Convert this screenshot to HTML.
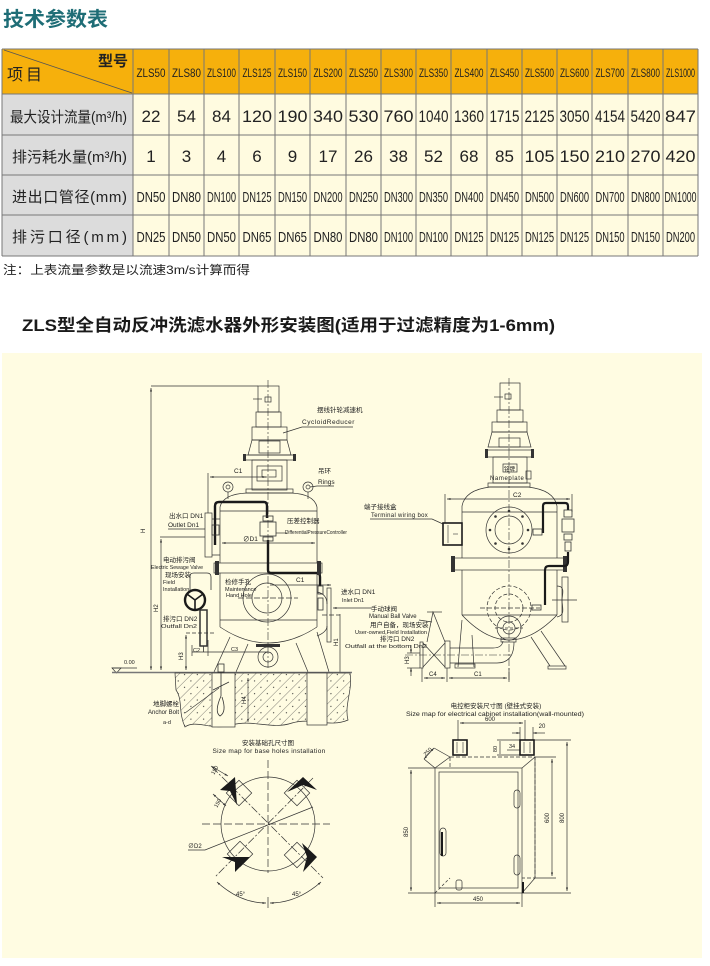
<!DOCTYPE html>
<html><head><meta charset="utf-8"><title>ZLS</title>
<style>
html,body{margin:0;padding:0;background:#fff;}
svg{display:block;}
.cj{font-family:"Liberation Sans","Noto Sans CJK SC",sans-serif;}
</style></head><body>
<svg width="710" height="966" viewBox="0 0 710 966" xmlns="http://www.w3.org/2000/svg" font-family="'Liberation Sans','Noto Sans CJK SC',sans-serif">
<defs>
<pattern id="hatch" width="9" height="9" patternUnits="userSpaceOnUse" patternTransform="rotate(45)">
<rect width="9" height="9" fill="#fffce2"/>
<line x1="0" y1="0" x2="0" y2="9" stroke="#333" stroke-width="0.6"/>
<circle cx="4.5" cy="4.5" r="0.6" fill="#333"/>
</pattern>
<marker id="ar" viewBox="0 0 10 10" refX="10" refY="5" markerWidth="5" markerHeight="5" orient="auto-start-reverse"><path d="M0,2 L10,5 L0,8 Z" fill="#333"/></marker>
</defs>

<!-- ===== title ===== -->
<text x="3" y="26" font-size="20" font-weight="bold" fill="#1e6d76" textLength="105" lengthAdjust="spacingAndGlyphs">技术参数表</text>

<!-- ===== table ===== -->
<rect x="2" y="49" width="696" height="45" fill="#f6b00c"/>
<rect x="2" y="94" width="131" height="162" fill="#dcdcdc"/>
<rect x="133" y="94" width="565" height="162" fill="#fffbe0"/>
<g stroke="#777" stroke-width="1">
<line x1="2" y1="49" x2="698" y2="49"/>
<line x1="2" y1="94" x2="698" y2="94"/>
<line x1="2" y1="135" x2="698" y2="135"/>
<line x1="2" y1="175" x2="698" y2="175"/>
<line x1="2" y1="215" x2="698" y2="215"/>
<line x1="2" y1="256" x2="698" y2="256"/>
<line x1="2" y1="49" x2="2" y2="256"/>
<line x1="133" y1="49" x2="133" y2="256"/>
<line x1="169" y1="49" x2="169" y2="256"/>
<line x1="204" y1="49" x2="204" y2="256"/>
<line x1="239" y1="49" x2="239" y2="256"/>
<line x1="275" y1="49" x2="275" y2="256"/>
<line x1="310" y1="49" x2="310" y2="256"/>
<line x1="346" y1="49" x2="346" y2="256"/>
<line x1="381" y1="49" x2="381" y2="256"/>
<line x1="416" y1="49" x2="416" y2="256"/>
<line x1="451" y1="49" x2="451" y2="256"/>
<line x1="487" y1="49" x2="487" y2="256"/>
<line x1="522" y1="49" x2="522" y2="256"/>
<line x1="557" y1="49" x2="557" y2="256"/>
<line x1="592" y1="49" x2="592" y2="256"/>
<line x1="628" y1="49" x2="628" y2="256"/>
<line x1="663" y1="49" x2="663" y2="256"/>
<line x1="698" y1="49" x2="698" y2="256"/>
<line x1="4" y1="50" x2="132" y2="93" stroke="#555" stroke-width="0.8"/>
</g>
<text x="98" y="66" font-size="15" font-weight="bold" fill="#222">型号</text>
<text x="7" y="80" font-size="16" fill="#222" textLength="35" lengthAdjust="spacing">项目</text>

<g font-size="12" fill="#222" text-anchor="middle">
<text x="151" y="77" textLength="29" lengthAdjust="spacingAndGlyphs">ZLS50</text>
<text x="186.5" y="77" textLength="29" lengthAdjust="spacingAndGlyphs">ZLS80</text>
<text x="221.5" y="77" textLength="29" lengthAdjust="spacingAndGlyphs">ZLS100</text>
<text x="257" y="77" textLength="29" lengthAdjust="spacingAndGlyphs">ZLS125</text>
<text x="292.5" y="77" textLength="29" lengthAdjust="spacingAndGlyphs">ZLS150</text>
<text x="328" y="77" textLength="29" lengthAdjust="spacingAndGlyphs">ZLS200</text>
<text x="363.5" y="77" textLength="29" lengthAdjust="spacingAndGlyphs">ZLS250</text>
<text x="398.5" y="77" textLength="29" lengthAdjust="spacingAndGlyphs">ZLS300</text>
<text x="433.5" y="77" textLength="29" lengthAdjust="spacingAndGlyphs">ZLS350</text>
<text x="469" y="77" textLength="29" lengthAdjust="spacingAndGlyphs">ZLS400</text>
<text x="504.5" y="77" textLength="29" lengthAdjust="spacingAndGlyphs">ZLS450</text>
<text x="539.5" y="77" textLength="29" lengthAdjust="spacingAndGlyphs">ZLS500</text>
<text x="574.5" y="77" textLength="29" lengthAdjust="spacingAndGlyphs">ZLS600</text>
<text x="610" y="77" textLength="29" lengthAdjust="spacingAndGlyphs">ZLS700</text>
<text x="645.5" y="77" textLength="29" lengthAdjust="spacingAndGlyphs">ZLS800</text>
<text x="680.5" y="77" textLength="29" lengthAdjust="spacingAndGlyphs">ZLS1000</text>
</g>

<g font-size="15" fill="#222">
<text x="10" y="122" textLength="117" lengthAdjust="spacingAndGlyphs">最大设计流量(m³/h)</text>
<text x="12" y="162" textLength="115" lengthAdjust="spacingAndGlyphs">排污耗水量(m³/h)</text>
<text x="12" y="202" textLength="115" lengthAdjust="spacing">进出口管径(mm)</text>
<text x="12" y="242" textLength="115" lengthAdjust="spacing">排污口径(mm)</text>
</g>

<g font-size="17" fill="#222" text-anchor="middle">
<text x="151" y="122">22</text>
<text x="186.5" y="122">54</text>
<text x="221.5" y="122">84</text>
<text x="257" y="122" textLength="30" lengthAdjust="spacingAndGlyphs">120</text>
<text x="292.5" y="122" textLength="30" lengthAdjust="spacingAndGlyphs">190</text>
<text x="328" y="122" textLength="30" lengthAdjust="spacingAndGlyphs">340</text>
<text x="363.5" y="122" textLength="30" lengthAdjust="spacingAndGlyphs">530</text>
<text x="398.5" y="122" textLength="30" lengthAdjust="spacingAndGlyphs">760</text>
<text x="433.5" y="122" textLength="30" lengthAdjust="spacingAndGlyphs">1040</text>
<text x="469" y="122" textLength="30" lengthAdjust="spacingAndGlyphs">1360</text>
<text x="504.5" y="122" textLength="30" lengthAdjust="spacingAndGlyphs">1715</text>
<text x="539.5" y="122" textLength="30" lengthAdjust="spacingAndGlyphs">2125</text>
<text x="574.5" y="122" textLength="30" lengthAdjust="spacingAndGlyphs">3050</text>
<text x="610" y="122" textLength="30" lengthAdjust="spacingAndGlyphs">4154</text>
<text x="645.5" y="122" textLength="30" lengthAdjust="spacingAndGlyphs">5420</text>
<text x="680.5" y="122" textLength="31" lengthAdjust="spacingAndGlyphs">847</text>

<text x="151" y="162">1</text>
<text x="186.5" y="162">3</text>
<text x="221.5" y="162">4</text>
<text x="257" y="162">6</text>
<text x="292.5" y="162">9</text>
<text x="328" y="162">17</text>
<text x="363.5" y="162">26</text>
<text x="398.5" y="162">38</text>
<text x="433.5" y="162">52</text>
<text x="469" y="162">68</text>
<text x="504.5" y="162">85</text>
<text x="539.5" y="162" textLength="30" lengthAdjust="spacingAndGlyphs">105</text>
<text x="574.5" y="162" textLength="30" lengthAdjust="spacingAndGlyphs">150</text>
<text x="610" y="162" textLength="30" lengthAdjust="spacingAndGlyphs">210</text>
<text x="645.5" y="162" textLength="30" lengthAdjust="spacingAndGlyphs">270</text>
<text x="680.5" y="162" textLength="30" lengthAdjust="spacingAndGlyphs">420</text>
</g>

<g font-size="15" fill="#222" text-anchor="middle">
<text x="151" y="202" textLength="29" lengthAdjust="spacingAndGlyphs">DN50</text>
<text x="186.5" y="202" textLength="29" lengthAdjust="spacingAndGlyphs">DN80</text>
<text x="221.5" y="202" textLength="29" lengthAdjust="spacingAndGlyphs">DN100</text>
<text x="257" y="202" textLength="29" lengthAdjust="spacingAndGlyphs">DN125</text>
<text x="292.5" y="202" textLength="29" lengthAdjust="spacingAndGlyphs">DN150</text>
<text x="328" y="202" textLength="29" lengthAdjust="spacingAndGlyphs">DN200</text>
<text x="363.5" y="202" textLength="29" lengthAdjust="spacingAndGlyphs">DN250</text>
<text x="398.5" y="202" textLength="29" lengthAdjust="spacingAndGlyphs">DN300</text>
<text x="433.5" y="202" textLength="29" lengthAdjust="spacingAndGlyphs">DN350</text>
<text x="469" y="202" textLength="29" lengthAdjust="spacingAndGlyphs">DN400</text>
<text x="504.5" y="202" textLength="29" lengthAdjust="spacingAndGlyphs">DN450</text>
<text x="539.5" y="202" textLength="29" lengthAdjust="spacingAndGlyphs">DN500</text>
<text x="574.5" y="202" textLength="29" lengthAdjust="spacingAndGlyphs">DN600</text>
<text x="610" y="202" textLength="29" lengthAdjust="spacingAndGlyphs">DN700</text>
<text x="645.5" y="202" textLength="29" lengthAdjust="spacingAndGlyphs">DN800</text>
<text x="680.5" y="202" textLength="32" lengthAdjust="spacingAndGlyphs">DN1000</text>

<text x="151" y="242" textLength="29" lengthAdjust="spacingAndGlyphs">DN25</text>
<text x="186.5" y="242" textLength="29" lengthAdjust="spacingAndGlyphs">DN50</text>
<text x="221.5" y="242" textLength="29" lengthAdjust="spacingAndGlyphs">DN50</text>
<text x="257" y="242" textLength="29" lengthAdjust="spacingAndGlyphs">DN65</text>
<text x="292.5" y="242" textLength="29" lengthAdjust="spacingAndGlyphs">DN65</text>
<text x="328" y="242" textLength="29" lengthAdjust="spacingAndGlyphs">DN80</text>
<text x="363.5" y="242" textLength="29" lengthAdjust="spacingAndGlyphs">DN80</text>
<text x="398.5" y="242" textLength="29" lengthAdjust="spacingAndGlyphs">DN100</text>
<text x="433.5" y="242" textLength="29" lengthAdjust="spacingAndGlyphs">DN100</text>
<text x="469" y="242" textLength="29" lengthAdjust="spacingAndGlyphs">DN125</text>
<text x="504.5" y="242" textLength="29" lengthAdjust="spacingAndGlyphs">DN125</text>
<text x="539.5" y="242" textLength="29" lengthAdjust="spacingAndGlyphs">DN125</text>
<text x="574.5" y="242" textLength="29" lengthAdjust="spacingAndGlyphs">DN125</text>
<text x="610" y="242" textLength="29" lengthAdjust="spacingAndGlyphs">DN150</text>
<text x="645.5" y="242" textLength="29" lengthAdjust="spacingAndGlyphs">DN150</text>
<text x="680.5" y="242" textLength="29" lengthAdjust="spacingAndGlyphs">DN200</text>
</g>

<text x="3" y="274" font-size="12" fill="#222" textLength="247" lengthAdjust="spacingAndGlyphs">注：上表流量参数是以流速3m/s计算而得</text>

<text x="22" y="331" font-size="17" font-weight="bold" fill="#1a1a1a" textLength="533" lengthAdjust="spacingAndGlyphs">ZLS型全自动反冲洗滤水器外形安装图(适用于过滤精度为1-6mm)</text>

<!-- ===== drawing panel ===== -->
<rect x="2" y="353" width="700" height="605" fill="#fffce2"/>

<!-- ================= LEFT MACHINE ================= -->
<g fill="none" stroke="#333" stroke-width="0.7">
<line x1="268" y1="380" x2="268" y2="668" stroke-dasharray="8 2 2 2" stroke-width="0.6"/>
<!-- motor & reducer -->
<rect x="258" y="386" width="21" height="26"/>
<rect x="265" y="397" width="6" height="5"/>
<line x1="253" y1="399" x2="262" y2="399"/>
<rect x="256" y="412" width="25" height="15"/>
<rect x="252" y="427" width="35" height="13"/>
<path d="M252,440 L287,440 L291,455 L248,455 Z"/>
<rect x="259" y="441" width="21" height="12"/>
<rect x="245" y="455" width="49" height="5"/>
<rect x="252" y="460" width="35" height="30"/>
<rect x="257" y="466" width="25" height="15"/>
<rect x="262" y="470" width="14" height="7"/>
<rect x="246" y="489" width="47" height="4"/>
<!-- dome -->
<path d="M220,507 Q223,494 247,493 L291,493 Q314,494 317,507"/>
<line x1="220" y1="507" x2="220" y2="563"/>
<line x1="317" y1="507" x2="317" y2="563"/>
<line x1="220" y1="511" x2="317" y2="511"/>
<!-- rings -->
<circle cx="228" cy="487" r="5"/><circle cx="228" cy="487" r="2"/>
<line x1="228" y1="492" x2="228" y2="499"/>
<circle cx="308" cy="487" r="5"/><circle cx="308" cy="487" r="2"/>
<line x1="308" y1="492" x2="308" y2="499"/>
<!-- flange band -->
<rect x="214" y="563" width="108" height="10"/>
<!-- lower body -->
<line x1="220" y1="573" x2="220" y2="627"/>
<line x1="317" y1="573" x2="317" y2="627"/>
<line x1="220" y1="620" x2="317" y2="620"/>
<path d="M220,627 Q268,659 317,627"/>
<!-- manhole -->
<circle cx="267" cy="598" r="24"/>
<circle cx="267" cy="598" r="15"/>
<line x1="238" y1="598" x2="298" y2="598" stroke-dasharray="6 2"/>
<!-- outlet nozzle left -->
<path d="M220,519 L212,519 M212,555 L220,555"/>
<rect x="205" y="513" width="7" height="44"/>
<line x1="160" y1="537" x2="205" y2="537"/>
<!-- inlet nozzle right -->
<path d="M317,592 Q327,594 327,604 M317,636 Q327,632 327,626"/>
<rect x="327" y="588" width="4" height="54"/>
<line x1="322" y1="615" x2="340" y2="615" stroke-dasharray="5 2"/>
<!-- legs -->
<line x1="230" y1="637" x2="214" y2="672"/>
<line x1="248" y1="644" x2="236" y2="672"/>
<line x1="296" y1="643" x2="308" y2="672"/>
<line x1="317" y1="632" x2="329" y2="672"/>
<!-- bottom drain flange -->
<circle cx="268" cy="657" r="10"/>
<circle cx="268" cy="657" r="5"/>
<line x1="340" y1="614" x2="340" y2="672"/>
<!-- dimension H -->
<line x1="151" y1="386" x2="258" y2="386"/>
<line x1="151" y1="388" x2="151" y2="670" marker-start="url(#ar)" marker-end="url(#ar)"/>
<line x1="161" y1="539" x2="161" y2="670" marker-start="url(#ar)" marker-end="url(#ar)"/>
<line x1="186" y1="633" x2="215" y2="633" stroke-dasharray="4 2"/>
<line x1="186" y1="635" x2="186" y2="670" marker-start="url(#ar)" marker-end="url(#ar)"/>
<!-- C1 top -->
<line x1="208" y1="473" x2="208" y2="513"/>
<line x1="210" y1="477" x2="266" y2="477" marker-start="url(#ar)" marker-end="url(#ar)"/>
<!-- D1 -->
<line x1="222" y1="543" x2="315" y2="543" marker-start="url(#ar)" marker-end="url(#ar)"/>
<!-- C1 lower -->
<line x1="270" y1="585" x2="331" y2="585" marker-end="url(#ar)"/>
<!-- C2 C3 -->
<line x1="192" y1="645" x2="192" y2="656"/>
<line x1="208" y1="640" x2="208" y2="656"/>
<line x1="192" y1="652" x2="268" y2="652"/>
<!-- inlet arrow -->
<line x1="372" y1="608" x2="333" y2="608" marker-end="url(#ar)"/>
<!-- leaders -->
<path d="M283,433 L302,427 L353,427"/>
<path d="M310,487 L317,486 L334,486"/>
<path d="M168,529 L205,529"/>
<path d="M276,533 L287,533"/>
<!-- ground -->
<line x1="112" y1="668" x2="137" y2="668"/>
<path d="M112,668 L121,668 L116.5,673 Z"/>
</g>
<line x1="112" y1="672.5" x2="352" y2="672.5" stroke="#777" stroke-width="1.4"/>
<!-- foundation -->
<path d="M175,673 L350,673 C353,690 344,705 348,720 C330,728 312,717 292,723 C272,730 252,719 232,725 C212,731 196,719 185,727 C178,712 183,700 176,690 Z" fill="url(#hatch)" stroke="#333" stroke-width="0.7"/>
<rect x="212" y="673" width="23" height="54" fill="#fffce2" stroke="#333" stroke-width="0.7"/>
<rect x="307" y="673" width="20" height="52" fill="#fffce2" stroke="#333" stroke-width="0.7"/>
<g fill="none" stroke="#333" stroke-width="0.8">
<rect x="218" y="664" width="6" height="8"/>
<line x1="221" y1="672" x2="221" y2="696"/>
<path d="M221,696 Q214,712 220,716 Q227,712 222,697"/>
<line x1="213" y1="690" x2="229" y2="682"/>
<line x1="248" y1="678" x2="248" y2="722" marker-start="url(#ar)" marker-end="url(#ar)" stroke-width="0.6"/>
<line x1="185" y1="713" x2="219" y2="688" stroke-width="0.6"/>
</g>
<!-- black pipes left -->
<g fill="none" stroke="#1a1a1a" stroke-width="2.4">
<path d="M215,545 L215,506 Q215,502 219,502 L264,502 Q267,502 267,506 L267,518"/>
<path d="M268,540 L268,570 Q268,573 271,573 L317,573 Q320,573 320,577 L320,586"/>
<circle cx="195" cy="600" r="10"/>
<path d="M195,600 L187,594 M195,600 L203,594 M195,600 L195,610" stroke-width="1.6"/>
</g>
<g fill="none" stroke="#333" stroke-width="0.8">
<rect x="260" y="522" width="16" height="14"/>
<rect x="263" y="516" width="10" height="5"/>
<rect x="263" y="537" width="10" height="4"/>
<rect x="212" y="525" width="7" height="10"/>
<path d="M190,590 L190,576 Q190,573 194,573 L207,573 Q211,573 211,577 L211,590"/>
<rect x="200" y="610" width="7" height="36" stroke-width="1.5"/>
<line x1="203.5" y1="646" x2="203.5" y2="652"/>
<rect x="318" y="586" width="5" height="8"/>
<rect x="318" y="598" width="5" height="12"/>
</g>
<g fill="#333">
<rect x="243" y="454" width="3" height="7"/>
<rect x="293" y="454" width="3" height="7"/>
<rect x="215" y="561" width="4" height="14"/>
<rect x="317" y="561" width="4" height="14"/>
<rect x="256" y="644" width="24" height="3"/>
</g>

<!-- left labels -->
<g fill="#222" font-size="6.5">
<text x="317" y="412">摆线针轮减速机</text>
<text x="302" y="424" font-size="6.5" letter-spacing="0.5">CycloidReducer</text>
<text x="318" y="473">吊环</text>
<text x="318" y="484">Rings</text>
<text x="234" y="473">C1</text>
<text x="169" y="518">出水口 DN1</text>
<text x="168" y="527">Outlet Dn1</text>
<text x="287" y="523">压差控制器</text>
<text x="285" y="534" font-size="5.5" textLength="62" lengthAdjust="spacingAndGlyphs">DifferentialPressureController</text>
<text x="243" y="541">∅D1</text>
<text x="163" y="562">电动排污阀</text>
<text x="151" y="569" font-size="5.5" textLength="52" lengthAdjust="spacingAndGlyphs">Electric Sewage Valve</text>
<text x="165" y="577">现场安装</text>
<text x="163" y="584" font-size="5.5">Field</text>
<text x="163" y="591" font-size="5.5">Installation</text>
<text x="225" y="584">检修手孔</text>
<text x="225" y="591" font-size="5.5">Maintenance</text>
<text x="226" y="597" font-size="5.5">Hand Hole</text>
<text x="296" y="582">C1</text>
<text x="163" y="621">排污口 DN2</text>
<text x="161" y="628" font-size="5.5" textLength="36" lengthAdjust="spacingAndGlyphs">Outfall Dn2</text>
<text x="341" y="594">进水口 DN1</text>
<text x="342" y="602" font-size="5.5">Inlet Dn1</text>
<text x="193" y="652" font-size="5.5">C2</text>
<text x="231" y="651" font-size="5.5">C3</text>
<text x="124" y="664" font-size="5.5">0.00</text>
<text x="153" y="706">地脚螺栓</text>
<text x="148" y="714" font-size="6">Anchor Bolt</text>
<text x="163" y="724" font-size="5.5">a-d</text>
<text transform="translate(145,533) rotate(-90)" font-size="6">H</text>
<text transform="translate(158,612) rotate(-90)" font-size="6">H2</text>
<text transform="translate(183,660) rotate(-90)" font-size="6">H3</text>
<text transform="translate(338,646) rotate(-90)" font-size="6">H1</text>
<text transform="translate(246,704) rotate(-90)" font-size="6">H4</text>
</g>

<!-- ================= RIGHT MACHINE ================= -->
<g fill="none" stroke="#333" stroke-width="0.7">
<line x1="509" y1="378" x2="509" y2="680" stroke-dasharray="8 2 2 2" stroke-width="0.6"/>
<rect x="500" y="383" width="20" height="27"/>
<rect x="505" y="394" width="6" height="5"/>
<line x1="494" y1="397" x2="503" y2="397"/>
<rect x="497" y="410" width="26" height="12"/>
<rect x="492" y="422" width="35" height="10"/>
<path d="M492,432 L527,432 L531,447 L488,447 Z"/>
<rect x="499" y="438" width="21" height="9"/>
<rect x="487" y="450" width="45" height="7"/>
<rect x="493" y="457" width="34" height="26"/>
<rect x="503" y="464" width="14" height="8"/>
<rect x="526" y="471" width="5" height="8"/>
<rect x="488" y="483" width="42" height="4"/>
<path d="M462,506 Q465,490 490,487 L528,487 Q554,490 557,506"/>
<line x1="462" y1="506" x2="462" y2="558"/>
<line x1="557" y1="506" x2="557" y2="558"/>
<line x1="462" y1="512" x2="557" y2="512"/>
<circle cx="509" cy="530" r="23"/>
<circle cx="509" cy="530" r="14"/>
<rect x="453" y="558" width="112" height="12"/>
<line x1="462" y1="570" x2="462" y2="615"/>
<line x1="557" y1="570" x2="557" y2="615"/>
<line x1="462" y1="615" x2="557" y2="615"/>
<path d="M462,615 Q509,665 557,615"/>
<circle cx="509" cy="608" r="22" stroke-dasharray="4 2"/>
<circle cx="509" cy="608" r="14" stroke-dasharray="4 2"/>
<line x1="480" y1="608" x2="540" y2="608" stroke-dasharray="5 2"/>
<path d="M557,586 C566,586 562,595 562,600 C562,607 566,615 557,617"/>
<rect x="562" y="577" width="6" height="45"/>
<line x1="552" y1="600" x2="577" y2="600"/>
<circle cx="509" cy="628" r="12"/>
<circle cx="509" cy="628" r="6"/>
<line x1="495" y1="628" x2="523" y2="628" stroke-dasharray="3 2"/>
<!-- legs -->
<line x1="531" y1="637" x2="550" y2="666"/>
<line x1="541" y1="631" x2="565" y2="666"/>
<rect x="548" y="666" width="18" height="3"/>
<path d="M462,620 L458,667 M472,635 L474,667"/>
<rect x="455" y="664" width="20" height="4"/>
<!-- drain pipe -->
<path d="M450,648 L493,648 Q502,648 503,641"/>
<path d="M450,663 L497,663 Q514,663 514,642"/>
<rect x="501" y="638" width="15" height="4"/>
<rect x="445" y="641" width="5" height="27"/>
<rect x="420" y="642" width="3" height="26"/>
<path d="M423,643 L445,667 M423,667 L445,643"/>
<path d="M427,642 L433,612 L445,642"/>
<line x1="427" y1="612" x2="442" y2="612"/>
<line x1="405" y1="655" x2="512" y2="655" stroke-dasharray="8 2 2 2" stroke-width="0.5"/>
<!-- dims -->
<line x1="407" y1="653" x2="420" y2="653"/>
<line x1="407" y1="668" x2="420" y2="668"/>
<line x1="411" y1="645" x2="411" y2="653" marker-end="url(#ar)"/>
<line x1="411" y1="676" x2="411" y2="668" marker-end="url(#ar)"/>
<line x1="422" y1="668" x2="422" y2="682"/>
<line x1="447" y1="668" x2="447" y2="682"/>
<line x1="509" y1="668" x2="509" y2="682"/>
<line x1="424" y1="678" x2="445" y2="678" marker-start="url(#ar)" marker-end="url(#ar)"/>
<line x1="449" y1="678" x2="507" y2="678" marker-start="url(#ar)" marker-end="url(#ar)"/>
<line x1="445" y1="494" x2="445" y2="523"/>
<line x1="572" y1="494" x2="572" y2="512"/>
<line x1="447" y1="499" x2="570" y2="499" marker-start="url(#ar)" marker-end="url(#ar)"/>
<!-- leaders -->
<path d="M370,519 L432,519 L443,524"/>
<path d="M419,620 L432,622"/>
</g>
<g fill="#333">
<rect x="485" y="449" width="3" height="9"/>
<rect x="531" y="449" width="3" height="9"/>
<rect x="451" y="556" width="4" height="16"/>
<rect x="563" y="556" width="4" height="16"/>
<circle cx="509" cy="511" r="1.3"/><circle cx="509" cy="549" r="1.3"/>
<circle cx="490" cy="530" r="1.3"/><circle cx="528" cy="530" r="1.3"/>
<circle cx="495.5" cy="516.5" r="1.3"/><circle cx="522.5" cy="516.5" r="1.3"/>
<circle cx="495.5" cy="543.5" r="1.3"/><circle cx="522.5" cy="543.5" r="1.3"/>
</g>
<!-- wiring box -->
<rect x="443" y="523" width="19" height="22" fill="none" stroke="#1a1a1a" stroke-width="1.6"/>
<line x1="448" y1="525" x2="448" y2="543" stroke="#333" stroke-width="0.6"/>
<line x1="453" y1="534" x2="458" y2="534" stroke="#333" stroke-width="0.6"/>
<!-- black pipe right -->
<g fill="none" stroke="#1a1a1a" stroke-width="2.2">
<path d="M543,533 L543,506 Q543,503 546,503 L565,503 Q568,503 568,506 L568,510"/>
<path d="M568,552 L568,562 Q568,566 564,566 L549,566 Q545,566 545,570 L545,605"/>
</g>
<g fill="none" stroke="#333" stroke-width="0.8">
<rect x="533" y="529" width="9" height="6"/>
<rect x="564" y="510" width="8" height="7"/>
<rect x="562" y="519" width="12" height="13"/>
<rect x="564" y="534" width="8" height="6"/>
<rect x="565" y="542" width="6" height="9"/>
<rect x="532" y="605" width="9" height="5"/>
</g>
<g fill="#222" font-size="6.5">
<text x="504" y="471" font-size="5.5">铭牌</text>
<text x="490" y="480" font-size="6" letter-spacing="0.6">Nameplate</text>
<text x="513" y="497">C2</text>
<text x="364" y="509">端子接线盒</text>
<text x="371" y="517" font-size="6" letter-spacing="0.3">Terminal wiring box</text>
<text x="371" y="611">手动球阀</text>
<text x="369" y="618" font-size="6">Manual Ball Valve</text>
<text x="370" y="627">用户自备，现场安装</text>
<text x="355" y="634" font-size="5.5" textLength="72" lengthAdjust="spacingAndGlyphs">User-owned,Field Installation</text>
<text x="380" y="641">排污口 DN2</text>
<text x="345" y="648" font-size="5.5" textLength="82" lengthAdjust="spacingAndGlyphs">Outfall at the bottom Dn2</text>
<text x="429" y="676" font-size="6">C4</text>
<text x="474" y="676" font-size="6">C1</text>
<text transform="translate(409,664) rotate(-90)" font-size="6">H3</text>
</g>

<!-- ================= ELECTRICAL CABINET ================= -->
<g fill="#222" font-size="6.5" text-anchor="middle">
<text x="496" y="708">电控柜安装尺寸图 (壁挂式安装)</text>
<text x="495" y="716" font-size="6.5" textLength="178" lengthAdjust="spacingAndGlyphs">Size map for electrical cabinet installation(wall-mounted)</text>
</g>
<g fill="none" stroke="#333" stroke-width="0.7">
<rect x="450" y="757" width="85" height="121" stroke-dasharray="4 2"/>
<rect x="435" y="768" width="87" height="125" fill="#fffce2"/>
<rect x="439" y="772" width="79" height="116"/>
<line x1="435" y1="768" x2="450" y2="757"/>
<line x1="522" y1="768" x2="535" y2="757"/>
<line x1="522" y1="893" x2="535" y2="878"/>
<line x1="435" y1="893" x2="450" y2="878" stroke-dasharray="3 2"/>
<line x1="535" y1="757" x2="535" y2="878"/>
<rect x="514" y="790" width="6" height="18" rx="3"/>
<rect x="514" y="855" width="6" height="20" rx="3"/>
<rect x="440" y="828" width="6" height="28" rx="3"/>
<rect x="456" y="880" width="6" height="10" rx="2"/>
<!-- dims -->
<line x1="458" y1="720" x2="458" y2="740"/>
<line x1="525" y1="720" x2="525" y2="740"/>
<line x1="460" y1="723" x2="523" y2="723" marker-start="url(#ar)" marker-end="url(#ar)"/>
<line x1="520" y1="727" x2="520" y2="740"/>
<line x1="533" y1="727" x2="533" y2="740"/>
<line x1="512" y1="733" x2="520" y2="733" marker-end="url(#ar)"/>
<line x1="545" y1="733" x2="533" y2="733" marker-end="url(#ar)"/>
<line x1="497" y1="740" x2="520" y2="740"/>
<line x1="497" y1="755" x2="520" y2="755"/>
<line x1="500" y1="741" x2="500" y2="754"/>
<line x1="507" y1="750" x2="520" y2="750"/>
<line x1="424" y1="759" x2="434" y2="748" marker-start="url(#ar)" marker-end="url(#ar)"/>
<line x1="424" y1="759" x2="435" y2="768"/>
<line x1="434" y1="748" x2="450" y2="757"/>
<line x1="408" y1="768" x2="435" y2="768"/>
<line x1="408" y1="893" x2="435" y2="893"/>
<line x1="411" y1="770" x2="411" y2="891" marker-start="url(#ar)" marker-end="url(#ar)"/>
<line x1="535" y1="757" x2="556" y2="757"/>
<line x1="535" y1="878" x2="556" y2="878"/>
<line x1="552" y1="759" x2="552" y2="876" marker-start="url(#ar)" marker-end="url(#ar)"/>
<line x1="534" y1="740" x2="571" y2="740"/>
<line x1="522" y1="893" x2="571" y2="893"/>
<line x1="567" y1="742" x2="567" y2="891" marker-start="url(#ar)" marker-end="url(#ar)"/>
<line x1="435" y1="893" x2="435" y2="907"/>
<line x1="522" y1="893" x2="522" y2="907"/>
<line x1="437" y1="903" x2="520" y2="903" marker-start="url(#ar)" marker-end="url(#ar)"/>
</g>
<g fill="none" stroke="#1a1a1a" stroke-width="1.6">
<rect x="453" y="740" width="14" height="15"/>
<rect x="520" y="740" width="14" height="15"/>
<line x1="442" y1="832" x2="442" y2="856" stroke-width="2"/>
<line x1="523" y1="882" x2="523" y2="893" stroke-width="2"/>
</g>
<g stroke="#333" stroke-width="0.6">
<line x1="457" y1="742" x2="457" y2="753"/><line x1="463" y1="742" x2="463" y2="753"/>
<line x1="524" y1="742" x2="524" y2="753"/><line x1="530" y1="742" x2="530" y2="753"/>
</g>
<g fill="#222" font-size="6" text-anchor="middle">
<text x="490" y="721">600</text>
<text x="542" y="728">20</text>
<text x="512" y="748" font-size="5.5">34</text>
<text transform="translate(497,749) rotate(-90)" font-size="5.5">80</text>
<text transform="translate(429,753) rotate(-45)" font-size="5.5">250</text>
<text transform="translate(408,832) rotate(-90)">850</text>
<text transform="translate(549,818) rotate(-90)">600</text>
<text transform="translate(564,818) rotate(-90)">800</text>
<text x="478" y="901">450</text>
</g>

<!-- ================= BASE HOLES ================= -->
<g fill="#222" font-size="6.5" text-anchor="middle">
<text x="268" y="745">安装基础孔尺寸图</text>
<text x="269" y="753" font-size="6.5" letter-spacing="0.3">Size map for base holes installation</text>
</g>
<g fill="none" stroke="#333" stroke-width="0.7">
<circle cx="268" cy="824" r="47"/>
<line x1="202" y1="824" x2="330" y2="824" stroke-dasharray="8 3"/>
<line x1="268" y1="760" x2="268" y2="873" stroke-dasharray="8 3"/>
<line x1="212" y1="767" x2="323" y2="878" stroke-dasharray="8 2 2 2"/>
<line x1="313" y1="778" x2="215" y2="877" stroke-dasharray="8 2 2 2"/>
<rect x="230" y="784" width="18" height="18" transform="rotate(45 239 793)"/>
<rect x="288" y="784" width="18" height="18" transform="rotate(45 297 793)"/>
<rect x="231" y="845" width="18" height="18" transform="rotate(45 240 854)"/>
<rect x="288" y="846" width="18" height="18" transform="rotate(45 297 855)"/>
<path d="M188,850 L205,850 L313,807"/>
<line x1="211" y1="766" x2="228" y2="776" marker-start="url(#ar)" marker-end="url(#ar)"/>
<line x1="213" y1="794" x2="226" y2="806" marker-start="url(#ar)" marker-end="url(#ar)"/>
<path d="M217,882 Q240,903 266,903" marker-start="url(#ar)" marker-end="url(#ar)"/>
<path d="M321,882 Q297,903 270,903" marker-start="url(#ar)" marker-end="url(#ar)"/>
<line x1="268" y1="897" x2="268" y2="908"/>
</g>
<g fill="#1a1a1a">
<path d="M220,790 L235,777 L237,805 L230,791 Z"/>
<path d="M287,792 L303,777 L317,790 L303,785 Z"/>
<path d="M222,857 L250,857 L235,872 L235,862 Z"/>
<path d="M302,843 L317,857 L303,872 L307,857 Z"/>
</g>
<g fill="#222" font-size="6">
<text x="188" y="848">∅D2</text>
<text x="236" y="896">45°</text>
<text x="292" y="896">45°</text>
<text transform="translate(214,775) rotate(-60)" font-size="5.5">150</text>
<text transform="translate(217,808) rotate(-60)" font-size="5.5">150</text>
</g>
</svg>
</body></html>
